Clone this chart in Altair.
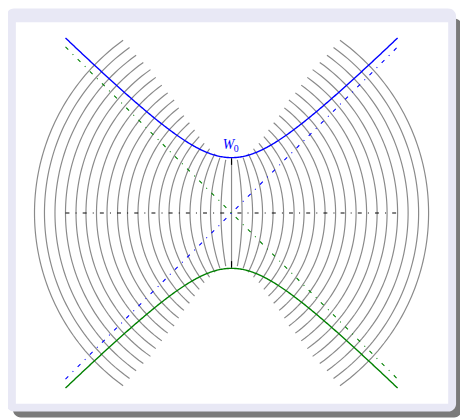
import altair as alt
import numpy as np
import pandas as pd

# ---- beam parameters (units: waist radius) ----
W0 = 1.0          # waist radius
ZR = 1.0          # Rayleigh range
Z_END = 3.0       # extent of the envelope / asymptotes / axis
# axial positions of the wavefront arcs (mirrored to both sides)
ARC_Z = [0.19, 0.38, 0.56, 0.75, 0.94, 1.13, 1.31, 1.50, 1.69, 1.88,
         2.06, 2.25, 2.44, 2.63, 2.81, 3.00, 3.19, 3.38, 3.56]
# half heights of those arcs
ARC_HALF = [0.96, 1.00, 1.07, 1.16, 1.26, 1.38, 1.50, 1.63, 1.76, 1.90,
            2.04, 2.17, 2.31, 2.45, 2.59, 2.72, 2.85, 2.99, 3.12]
CENTER_HALF = 0.95
TICK_SPAN = [0.87, 0.99]
LABEL_MAIN = "W"
LABEL_SUB = "0"

# ---- layout ----
W, H = 460, 410
PPU = 56.33
CX, CY = 227.5, 205.0
xdom = [-CX / PPU, (W - CX) / PPU]
ydom = [-(H - CY) / PPU, CY / PPU]
xs = alt.Scale(domain=xdom, nice=False, zero=False)
ys = alt.Scale(domain=ydom, nice=False, zero=False)

# ---- wavefront arcs ----
rows = []
aid = 0
for zk, hk in zip(ARC_Z, ARC_HALF):
    for s in (-1, 1):
        z0 = s * zk
        R = z0 + ZR ** 2 / z0
        zc = -ZR ** 2 / z0
        yy = np.linspace(-hk, hk, 90)
        zz = zc + np.sign(z0) * np.sqrt(R ** 2 - yy ** 2)
        for i, (a, b) in enumerate(zip(zz, yy)):
            rows.append({"id": aid, "i": i, "z": a, "y": b})
        aid += 1
for i, b in enumerate([-CENTER_HALF, CENTER_HALF]):
    rows.append({"id": aid, "i": i, "z": 0.0, "y": b})
arcs = pd.DataFrame(rows)

# ---- envelope ----
zline = np.linspace(-Z_END, Z_END, 301)
wz = W0 * np.sqrt(1 + (zline / ZR) ** 2)
top = pd.DataFrame({"z": zline, "y": wz, "i": np.arange(len(zline))})
bot = pd.DataFrame({"z": zline, "y": -wz, "i": np.arange(len(zline))})

slope = W0 / ZR
asym_blue = pd.DataFrame({"z": [-Z_END, Z_END], "y": [-slope * Z_END, slope * Z_END], "i": [0, 1]})
asym_green = pd.DataFrame({"z": [-Z_END, Z_END], "y": [slope * Z_END, -slope * Z_END], "i": [0, 1]})
axis_df = pd.DataFrame({"z": [-Z_END, Z_END], "y": [0.0, 0.0], "i": [0, 1]})
ticks = pd.DataFrame({"z": [0.0, 0.0], "y": [TICK_SPAN[0], -TICK_SPAN[0]],
                      "y2": [TICK_SPAN[1], -TICK_SPAN[1]]})
lab_main = pd.DataFrame({"z": [-0.055], "y": [1.16], "t": [LABEL_MAIN]})
lab_sub = pd.DataFrame({"z": [0.085], "y": [1.095], "t": [LABEL_SUB]})

dummy = pd.DataFrame({"a": [0]})

# ---- frame (decoration) ----
shadow = alt.Chart(dummy).mark_rect(color="#7a7a7a", cornerRadius=8).encode(
    x=alt.value(5), x2=alt.value(462), y=alt.value(7), y2=alt.value(413))
frame = alt.Chart(dummy).mark_rect(color="#e8e8f5", cornerRadius=8).encode(
    x=alt.value(-2), x2=alt.value(456), y=alt.value(-3), y2=alt.value(407))
inner = alt.Chart(dummy).mark_rect(color="#ffffff").encode(
    x=alt.value(8), x2=alt.value(448), y=alt.value(11), y2=alt.value(399))

def line(df, color, width, dash=None, detail=False):
    kw = dict(color=color, strokeWidth=width)
    if dash:
        kw["strokeDash"] = dash
    enc = dict(x=alt.X("z:Q", scale=xs, axis=None),
               y=alt.Y("y:Q", scale=ys, axis=None),
               order=alt.Order("i:Q"))
    if detail:
        enc["detail"] = "id:N"
    return alt.Chart(df).mark_line(**kw).encode(**enc)

arc_layer = line(arcs, "#8a8a8a", 1.2, detail=True)
ax_layer = line(axis_df, "#000000", 1.0, dash=[4, 6.25, 1, 6.25])
ab_layer = line(asym_blue, "#0000ff", 1.1, dash=[4, 6.25, 1, 6.25])
ag_layer = line(asym_green, "#008000", 1.1, dash=[4, 6.25, 1, 6.25])
tick_layer = alt.Chart(ticks).mark_rule(color="#000000", strokeWidth=1.2).encode(
    x=alt.X("z:Q", scale=xs, axis=None), y=alt.Y("y:Q", scale=ys, axis=None), y2="y2:Q")
top_layer = line(top, "#0000ff", 1.4)
bot_layer = line(bot, "#008000", 1.4)
t1 = alt.Chart(lab_main).mark_text(font="Liberation Serif", fontStyle="italic", fontSize=14,
                                   color="#0000ff", align="center", baseline="alphabetic").encode(
    x=alt.X("z:Q", scale=xs, axis=None), y=alt.Y("y:Q", scale=ys, axis=None), text="t:N")
t2 = alt.Chart(lab_sub).mark_text(font="Liberation Serif", fontSize=10,
                                  color="#0000ff", align="center", baseline="alphabetic").encode(
    x=alt.X("z:Q", scale=xs, axis=None), y=alt.Y("y:Q", scale=ys, axis=None), text="t:N")

chart = alt.layer(shadow, frame, inner, arc_layer, ax_layer, ab_layer, ag_layer, tick_layer,
                  top_layer, bot_layer, t1, t2).properties(
    width=W, height=H, autosize=alt.AutoSizeParams(type="none"), padding=0
).configure_view(stroke=None)

chart.save("out.html", embed_options={"renderer": "svg", "actions": False})
